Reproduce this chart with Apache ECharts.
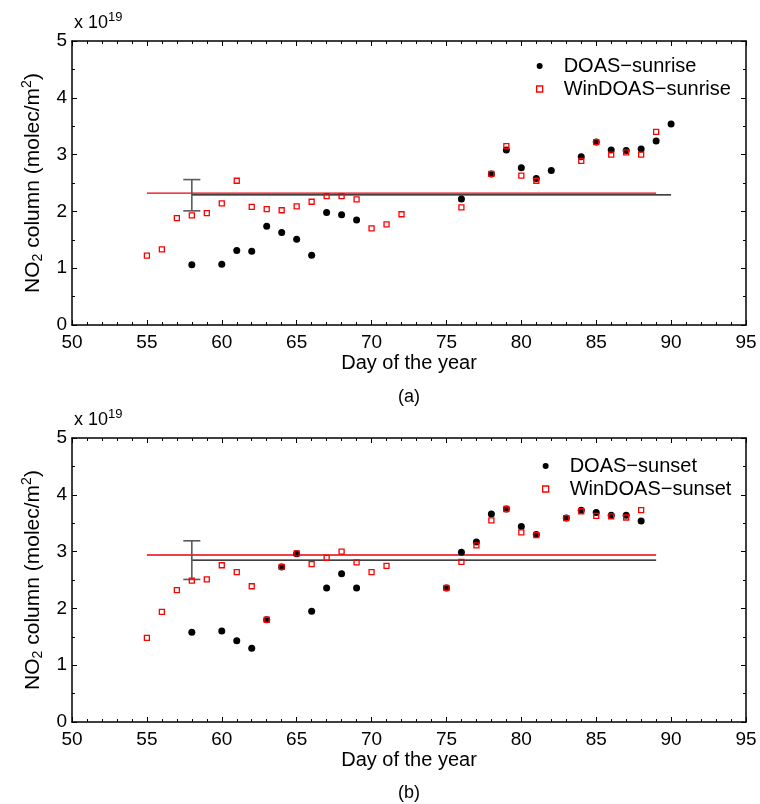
<!DOCTYPE html>
<html>
<head>
<meta charset="utf-8">
<script src="https://cdn.jsdelivr.net/npm/echarts@6/dist/echarts.min.js"></script>
<style>
html,body{margin:0;padding:0;background:#fff;}
#chart{width:760px;height:804px;}
</style>
</head>
<body>
<div id="chart"></div>
<script>
// ---------- data ----------
var xTicks = [50, 55, 60, 65, 70, 75, 80, 85, 90, 95];
var yTicks = [0, 1, 2, 3, 4, 5];

// (a) sunrise
var sunriseDoasDays = [58, 60, 61, 62, 63, 64, 65, 66, 67, 68, 69, 76, 78, 79, 80, 81, 82, 84, 85, 86, 87, 88, 89, 90];
var sunriseDoasVals = [1.06, 1.07, 1.31, 1.30, 1.74, 1.63, 1.51, 1.23, 1.98, 1.94, 1.85, 2.22, 2.66, 3.08, 2.77, 2.58, 2.72, 2.96, 3.22, 3.08, 3.07, 3.10, 3.24, 3.54];
var sunriseWinDays = [55, 56, 57, 58, 59, 60, 61, 62, 63, 64, 65, 66, 67, 68, 69, 70, 71, 72, 76, 78, 79, 80, 81, 84, 85, 86, 87, 88, 89];
var sunriseWinVals = [1.22, 1.33, 1.88, 1.93, 1.97, 2.14, 2.54, 2.08, 2.04, 2.02, 2.09, 2.17, 2.27, 2.27, 2.21, 1.70, 1.77, 1.95, 2.07, 2.66, 3.15, 2.63, 2.54, 2.89, 3.22, 3.00, 3.04, 3.00, 3.40];
var sunriseWinMean = { from: 55, to: 89, value: 2.32 };
var sunriseDoasMean = { from: 58, to: 90, value: 2.29 };
var sunriseErr = { day: 58, low: 2.01, high: 2.56 };

// (b) sunset
var sunsetDoasDays = [58, 60, 61, 62, 63, 64, 65, 66, 67, 68, 69, 75, 76, 77, 78, 79, 80, 81, 83, 84, 85, 86, 87, 88];
var sunsetDoasVals = [1.58, 1.60, 1.43, 1.30, 1.80, 2.73, 2.96, 1.95, 2.36, 2.61, 2.36, 2.36, 2.99, 3.17, 3.66, 3.75, 3.44, 3.30, 3.59, 3.73, 3.69, 3.64, 3.64, 3.54];
var sunsetWinDays = [55, 56, 57, 58, 59, 60, 61, 62, 63, 64, 65, 66, 67, 68, 69, 70, 71, 75, 76, 77, 78, 79, 80, 81, 83, 84, 85, 86, 87, 88];
var sunsetWinVals = [1.48, 1.94, 2.32, 2.49, 2.51, 2.76, 2.64, 2.39, 1.80, 2.73, 2.97, 2.78, 2.89, 3.00, 2.81, 2.64, 2.75, 2.36, 2.82, 3.11, 3.55, 3.75, 3.34, 3.29, 3.59, 3.71, 3.63, 3.62, 3.60, 3.73];
var sunsetWinMean = { from: 55, to: 89, value: 2.94 };
var sunsetDoasMean = { from: 58, to: 89, value: 2.85 };
var sunsetErr = { day: 58, low: 2.51, high: 3.19 };

// ---------- chart ----------
var FONT = '"Liberation Sans", Arial, Helvetica, sans-serif';
function zip(a, b) { return a.map(function (v, i) { return [v, b[i]]; }); }
var SQUARE = 'path://M0,0H10V10H0Z';

var panels = [
  { top: 41, names: ['DOAS\u2212sunrise', 'WinDOAS\u2212sunrise'], doas: zip(sunriseDoasDays, sunriseDoasVals), win: zip(sunriseWinDays, sunriseWinVals), winMean: sunriseWinMean, doasMean: sunriseDoasMean, err: sunriseErr, legendLeft: 531, legendTop: 51, label: '(a)', labelTop: 388 },
  { top: 438, names: ['DOAS\u2212sunset', 'WinDOAS\u2212sunset'], doas: zip(sunsetDoasDays, sunsetDoasVals), win: zip(sunsetWinDays, sunsetWinVals), winMean: sunsetWinMean, doasMean: sunsetDoasMean, err: sunsetErr, legendLeft: 537, legendTop: 451, label: '(b)', labelTop: 784 }
];

var option = {
  animation: false,
  backgroundColor: '#fff',
  textStyle: { fontFamily: FONT },
  grid: [], xAxis: [], yAxis: [], series: [], legend: [], graphic: []
};

var axisLine = { show: true, onZero: false, lineStyle: { color: '#000', width: 1.5 } };

panels.forEach(function (p, k) {
  option.grid.push({ left: 72, top: p.top, width: 674, height: 284, containLabel: false });
  var xi = k * 2, yi = k * 2;
  option.xAxis.push({
    type: 'value', gridIndex: k, min: xTicks[0], max: xTicks[xTicks.length - 1], interval: 5, position: 'bottom',
    axisLine: axisLine,
    axisTick: { show: true, inside: true, length: 5, lineStyle: { color: '#000', width: 1 } },
    minorTick: { show: true, splitNumber: 5, length: 3, lineStyle: { color: '#000', width: 1 } },
    splitLine: { show: false },
    axisLabel: { show: true, fontSize: 19, color: '#000', margin: 8, fontFamily: FONT },
    name: 'Day of the year', nameLocation: 'middle', nameGap: 28,
    nameTextStyle: { fontSize: 20, color: '#000', fontFamily: FONT, verticalAlign: 'top' }
  });
  option.xAxis.push({
    type: 'value', gridIndex: k, min: xTicks[0], max: xTicks[xTicks.length - 1], interval: 5, position: 'top',
    axisLine: axisLine,
    axisTick: { show: true, inside: true, length: 5, lineStyle: { color: '#000', width: 1 } },
    minorTick: { show: true, splitNumber: 5, length: 3, lineStyle: { color: '#000', width: 1 } },
    splitLine: { show: false }, axisLabel: { show: false }
  });
  option.yAxis.push({
    type: 'value', gridIndex: k, min: yTicks[0], max: yTicks[yTicks.length - 1], interval: 1, position: 'left',
    axisLine: axisLine,
    axisTick: { show: true, inside: true, length: 5, lineStyle: { color: '#000', width: 1 } },
    minorTick: { show: true, splitNumber: 2, length: 3, lineStyle: { color: '#000', width: 1 } },
    splitLine: { show: false },
    axisLabel: { show: true, fontSize: 19, color: '#000', margin: 5, fontFamily: FONT },
    name: '{n|NO}{sub|2}{n| column (molec/m}{sup|2}{n|)}', nameLocation: 'middle', nameRotate: 90, nameGap: 18,
    nameTextStyle: {
      color: '#000', fontFamily: FONT,
      rich: {
        n: { fontSize: 21, color: '#000', fontFamily: FONT },
        sub: { fontSize: 14, color: '#000', fontFamily: FONT, padding: [10, 0, 0, 0] },
        sup: { fontSize: 14, color: '#000', fontFamily: FONT, padding: [0, 0, 12, 0] }
      }
    }
  });
  option.yAxis.push({
    type: 'value', gridIndex: k, min: yTicks[0], max: yTicks[yTicks.length - 1], interval: 1, position: 'right',
    axisLine: axisLine,
    axisTick: { show: true, inside: true, length: 5, lineStyle: { color: '#000', width: 1 } },
    minorTick: { show: true, splitNumber: 2, length: 3, lineStyle: { color: '#000', width: 1 } },
    splitLine: { show: false }, axisLabel: { show: false }
  });

  option.series.push({
    type: 'line', xAxisIndex: xi, yAxisIndex: yi, silent: true, showSymbol: false, z: 1,
    data: [[p.winMean.from, p.winMean.value], [p.winMean.to, p.winMean.value]],
    lineStyle: { color: '#e8000b', width: 1.3 }
  });
  option.series.push({
    type: 'line', xAxisIndex: xi, yAxisIndex: yi, silent: true, showSymbol: false, z: 1,
    data: [[p.doasMean.from, p.doasMean.value], [p.doasMean.to, p.doasMean.value]],
    lineStyle: { color: '#000', width: 1.3 }
  });
  option.series.push({
    type: 'custom', xAxisIndex: xi, yAxisIndex: yi, silent: true, z: 2,
    data: [[p.err.day, p.err.low, p.err.high]],
    renderItem: function (params, api) {
      var d = api.value(0), lo = api.value(1), hi = api.value(2);
      var capHalf = 0.57;
      var pl = api.coord([d, lo]), ph = api.coord([d, hi]);
      var cl1 = api.coord([d - capHalf, lo]), cl2 = api.coord([d + capHalf, lo]);
      var ch1 = api.coord([d - capHalf, hi]), ch2 = api.coord([d + capHalf, hi]);
      var st = { stroke: '#5a5a5a', lineWidth: 1.6 };
      return {
        type: 'group', children: [
          { type: 'line', shape: { x1: pl[0], y1: pl[1], x2: ph[0], y2: ph[1] }, style: st },
          { type: 'line', shape: { x1: cl1[0], y1: cl1[1], x2: cl2[0], y2: cl2[1] }, style: st },
          { type: 'line', shape: { x1: ch1[0], y1: ch1[1], x2: ch2[0], y2: ch2[1] }, style: st }
        ]
      };
    }
  });
  option.series.push({
    name: p.names[0], type: 'scatter', xAxisIndex: xi, yAxisIndex: yi, z: 3,
    symbol: 'circle', symbolSize: 7, data: p.doas,
    itemStyle: { color: '#000', opacity: 1 }
  });
  option.series.push({
    name: p.names[1], type: 'scatter', xAxisIndex: xi, yAxisIndex: yi, z: 4,
    symbol: 'rect', symbolSize: 5, data: p.win,
    itemStyle: { color: 'rgba(0,0,0,0)', borderColor: '#ff0000', borderWidth: 1.3, opacity: 1 }
  });

  option.legend.push({
    data: [
      { name: p.names[0], icon: 'circle', itemStyle: { color: '#000', opacity: 1 } },
      { name: p.names[1], icon: SQUARE, itemStyle: { color: '#fff', borderColor: '#ff0000', borderWidth: 1.3, opacity: 1 } }
    ],
    orient: 'vertical', left: p.legendLeft, top: p.legendTop,
    itemWidth: 38, itemHeight: 6, itemGap: 3, symbolKeepAspect: true,
    textStyle: { fontSize: 20, color: '#000', fontFamily: FONT },
    selectedMode: false
  });

  option.graphic.push({
    type: 'text', left: 74, top: p.top - 30,
    style: {
      text: '{n|x 10}{sup|19}', fontFamily: FONT,
      rich: {
        n: { fontSize: 18, fill: '#000', fontFamily: FONT },
        sup: { fontSize: 13, fill: '#000', fontFamily: FONT, padding: [0, 0, 12, 0] }
      }
    }
  });
  option.graphic.push({
    type: 'text', left: 398, top: p.labelTop,
    style: { text: p.label, fontSize: 18, fill: '#000', fontFamily: FONT }
  });
});

var chart = echarts.init(document.getElementById('chart'), null, { renderer: 'canvas' });
chart.setOption(option);
</script>
</body>
</html>
